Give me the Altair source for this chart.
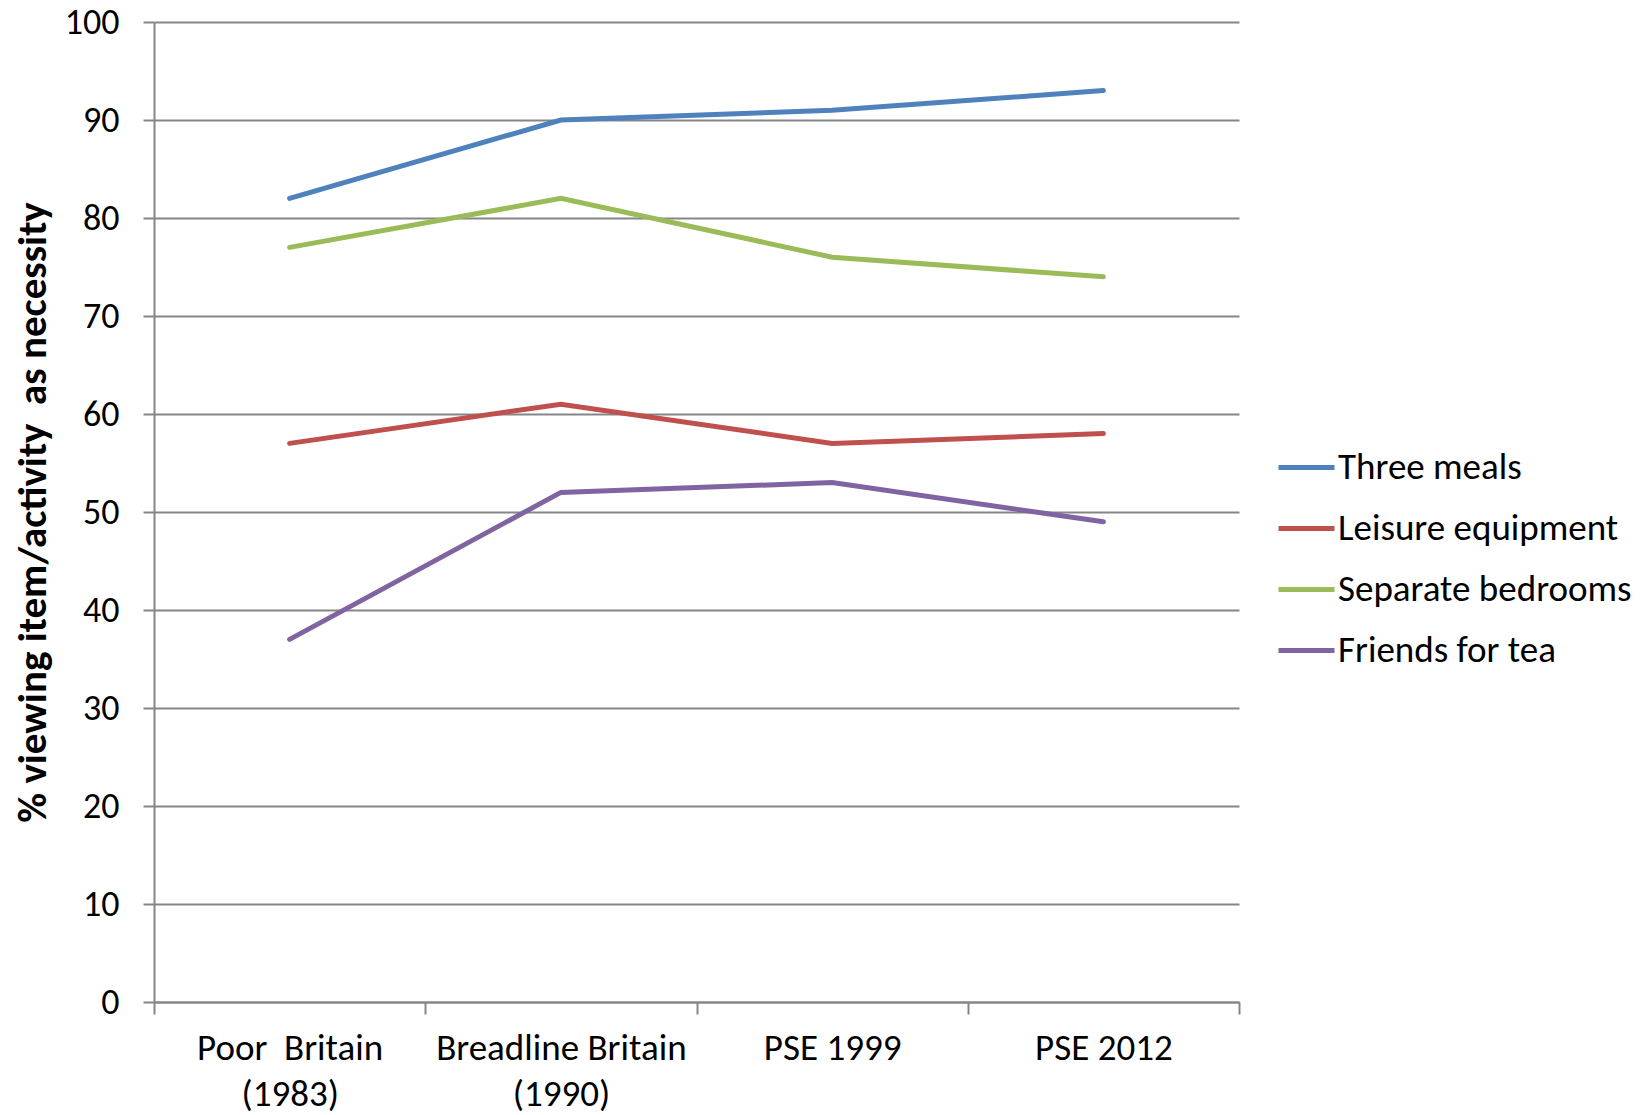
import altair as alt
import pandas as pd

surveys = ["Poor\u00a0 Britain\n(1983)", "Breadline Britain\n(1990)", "PSE 1999", "PSE 2012"]
series_names = ["Three meals", "Leisure equipment", "Separate bedrooms", "Friends for tea"]
three_meals = [82, 90, 91, 93]
leisure_equipment = [57, 61, 57, 58]
separate_bedrooms = [77, 82, 76, 74]
friends_for_tea = [37, 52, 53, 49]
colors = ["#4F81BD", "#C0504D", "#9BBB59", "#8064A2"]
y_ticks = [0, 10, 20, 30, 40, 50, 60, 70, 80, 90, 100]

rows = []
for name, vals in zip(series_names, [three_meals, leisure_equipment, separate_bedrooms, friends_for_tea]):
    for s, v in zip(surveys, vals):
        rows.append({"survey": s, "series": name, "value": v})
df = pd.DataFrame(rows)

FONT = "Carlito, Calibri, Lato, sans-serif"
GRID = "#868686"

chart = alt.Chart(df).mark_line(strokeWidth=5, strokeCap="round").encode(
    x=alt.X("survey:N", sort=surveys, bandPosition=0.5,
            scale=alt.Scale(type="band", paddingInner=0, paddingOuter=0),
            axis=alt.Axis(title=None, labelAngle=0, tickBand="extent", labelExpr="split(datum.label, '\\n')",
                          labelFontSize=37, labelLineHeight=46, labelPadding=16, tickSize=12,
                          tickColor=GRID, tickWidth=2, domainColor=GRID, domainWidth=2,
                          labelColor="black", labelLimit=400, grid=False)),
    y=alt.Y("value:Q", scale=alt.Scale(domain=[0, 100], nice=False),
            axis=alt.Axis(values=y_ticks, title="% viewing item/activity\u00a0 as necessity",
                          titleFontSize=41, titleFontWeight="bold", titleColor="black",
                          titleX=-121, titleY=490, titleAngle=-90, titleAlign="center", titleBaseline="middle",
                          labelFontSize=36, labelColor="black", labelPadding=24, tickSize=11,
                          tickColor=GRID, tickWidth=2, domainColor=GRID, domainWidth=2,
                          grid=True, gridColor=GRID, gridWidth=2)),
    color=alt.Color("series:N", sort=series_names,
                    scale=alt.Scale(domain=series_names, range=colors),
                    legend=alt.Legend(title=None, orient="none", legendX=1122, legendY=415,
                                      symbolType="stroke", symbolSize=3136, symbolStrokeWidth=5,
                                      labelFontSize=37, labelColor="black", labelOffset=1,
                                      rowPadding=12, padding=0, labelLimit=450)),
).properties(
    width=1085, height=980,
    autosize=alt.AutoSizeParams(type="none"),
    padding={"left": 154, "top": 22, "right": 412, "bottom": 113},
).configure(font=FONT).configure_view(stroke=None)

chart.save("out.html", embed_options={"renderer": "svg", "actions": False})
